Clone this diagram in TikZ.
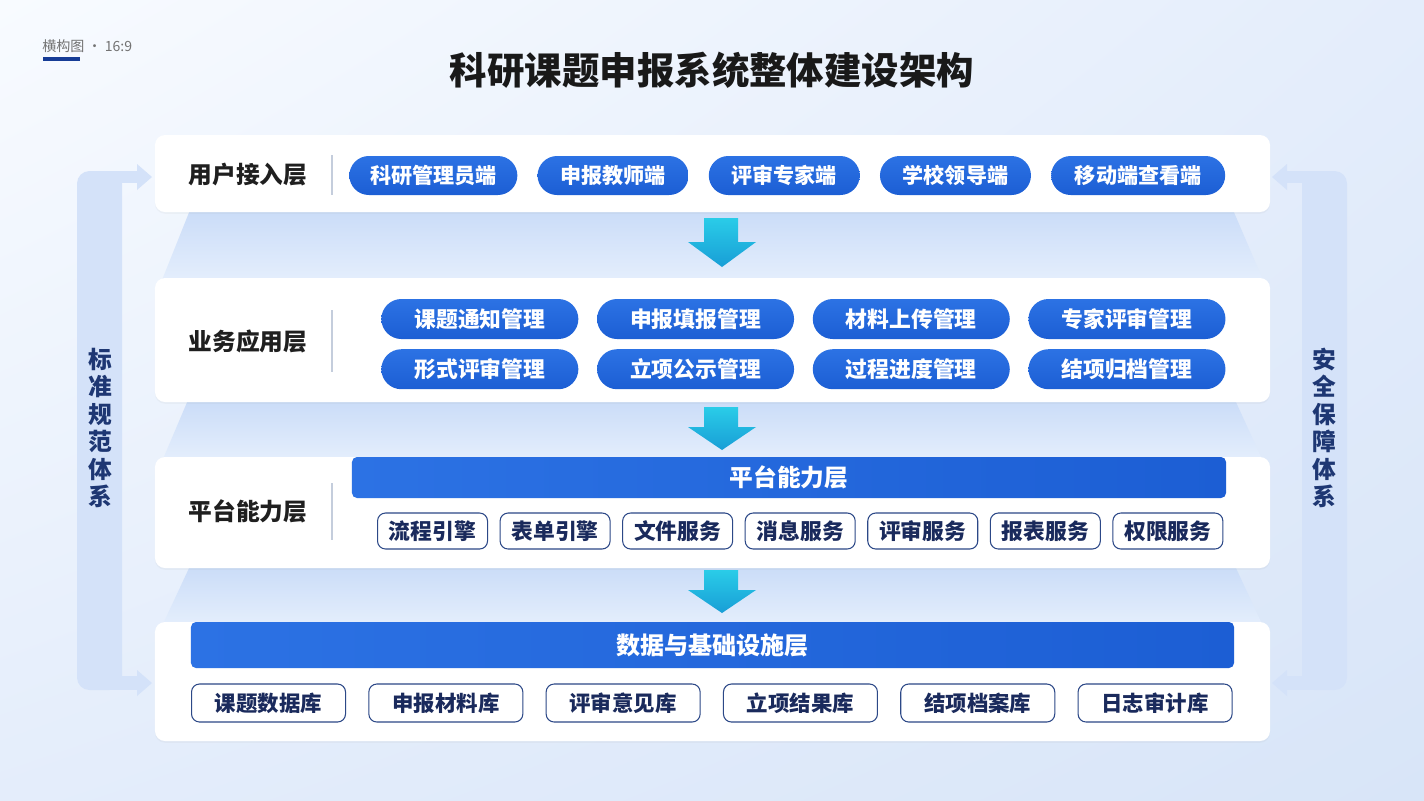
\documentclass[tikz,border=0pt]{standalone}
\usepackage{fontspec}
\setmainfont{Noto Sans CJK SC}
\usetikzlibrary{positioning, shadows, shadings}
\definecolor{pillblue}{RGB}{28,94,212}
\definecolor{pilltop}{RGB}{44,114,228}
\definecolor{navytext}{RGB}{26,42,92}
\definecolor{navyline}{RGB}{44,72,135}
\definecolor{sidefill}{RGB}{212,226,249}
\definecolor{sidetext}{RGB}{30,55,115}
\definecolor{gapfill}{RGB}{202,220,248}
\definecolor{gaplight}{RGB}{228,238,252}
\definecolor{arrowtop}{RGB}{42,204,232}
\definecolor{arrowbot}{RGB}{24,158,214}
\definecolor{seplight}{RGB}{196,205,220}
\definecolor{bgul}{RGB}{248,251,255}
\definecolor{bgur}{RGB}{228,237,251}
\definecolor{bgll}{RGB}{228,237,251}
\definecolor{bglr}{RGB}{216,229,248}
\definecolor{tagblue}{RGB}{22,60,150}
\tikzset{
  layercard/.style = {fill=white, rounded corners=2mm, minimum width=223mm,
                      drop shadow={opacity=0.06, shadow xshift=0pt, shadow yshift=-1pt}},
  layerlbl/.style  = {font=\fontsize{13.5}{16}\selectfont\bfseries, text=black!88},
  userpill/.style  = {rounded corners=3.9mm, minimum height=7.8mm, inner sep=0pt,
                      top color=pilltop, bottom color=pillblue, text=white,
                      font=\fontsize{12}{14}\selectfont\bfseries},
  bizpill/.style   = {userpill, minimum width=39.4mm, minimum height=8mm,
                      rounded corners=4mm, font=\fontsize{12.4}{14}\selectfont\bfseries},
  headbar/.style   = {rounded corners=1mm, left color=pilltop, right color=pillblue,
                      text=white, inner sep=0pt,
                      font=\fontsize{13.5}{16}\selectfont\bfseries},
  svcbox/.style    = {draw=navyline, line width=0.6pt, rounded corners=1.6mm,
                      fill=white, minimum width=22mm, minimum height=7.2mm,
                      inner sep=0pt, text=navytext,
                      font=\fontsize{12.4}{14}\selectfont\bfseries},
  dbbox/.style     = {svcbox, minimum width=30.8mm, minimum height=7.6mm,
                      font=\fontsize{12.2}{14}\selectfont\bfseries},
  flowarrow/.style = {top color=arrowtop, bottom color=arrowbot},
  sidelbl/.style   = {align=center, text=sidetext,
                      font=\fontsize{13.5}{15.6}\selectfont\bfseries},
  gapband/.style   = {top color=gapfill, bottom color=gaplight},
  sepline/.style   = {draw=seplight, line width=0.8pt}
}
\begin{document}
\begin{tikzpicture}[x=0.2mm, y=-0.2mm]
  \useasboundingbox (0,0) rectangle (1424,800);
  \shade[upper left=bgul, upper right=bgur, lower left=bgll, lower right=bglr]
    (0,0) rectangle (1424,800);

  % header
  \node[anchor=west, inner sep=0pt, text=black!55, font=\fontsize{8}{10}\selectfont]
       (tag) at (42,46) {横构图 · 16:9};
  \draw[tagblue, line width=2pt] (43,59) -- (80,59);
  \node[text=black!90, font=\fontsize{21.3}{26}\selectfont\bfseries]
       (title) at (712,70) {科研课题申报系统整体建设架构};

  % bands between layers
  \path[gapband] (190,210) -- (1233,210) -- (1263,280) -- (162,280) -- cycle;
  \path[gapband] (188,400) -- (1235,400) -- (1262,459) -- (163,459) -- cycle;
  \path[gapband] (190,566) -- (1235,566) -- (1262,624) -- (163,624) -- cycle;

  % side systems
  \fill[sidefill, rounded corners=2.5mm] (77,171) rectangle (122,690);
  \fill[sidefill] (110,171) rectangle (137,183);
  \fill[sidefill] (137,164) -- (152,177) -- (137,190) -- cycle;
  \fill[sidefill] (110,676) rectangle (137,690);
  \fill[sidefill] (137,670) -- (152,683) -- (137,696) -- cycle;
  \node[sidelbl] (stdlbl) at (100,428) {标\\准\\规\\范\\体\\系};

  \fill[sidefill, rounded corners=2.5mm] (1302,171) rectangle (1347,690);
  \fill[sidefill] (1287,171) rectangle (1314,183);
  \fill[sidefill] (1287,164) -- (1272,177) -- (1287,190) -- cycle;
  \fill[sidefill] (1287,676) rectangle (1314,690);
  \fill[sidefill] (1287,670) -- (1272,683) -- (1287,696) -- cycle;
  \node[sidelbl] (seclbl) at (1324,428) {安\\全\\保\\障\\体\\系};

  % layer cards
  \node[layercard, minimum height=15.4mm] (L1) at (712.5,173.5) {};
  \node[layercard, minimum height=24.8mm] (L2) at (712.5,340) {};
  \node[layercard, minimum height=22.2mm] (L3) at (712.5,512.5) {};
  \node[layercard, minimum height=23.8mm] (L4) at (712.5,681.5) {};

  % user access layer
  \node[layerlbl] (L1lbl) at (248,175) {用户接入层};
  \draw[sepline] (332,155) -- (332,195);
  \node[userpill, minimum width=33.6mm, anchor=west] (u1) at (349,175.5) {科研管理员端};
  \node[userpill, minimum width=30.2mm, right=3.9mm of u1] (u2) {申报教师端};
  \node[userpill, minimum width=30.2mm, right=3.9mm of u2] (u3) {评审专家端};
  \node[userpill, minimum width=30.2mm, right=3.9mm of u3] (u4) {学校领导端};
  \node[userpill, minimum width=34.8mm, right=3.9mm of u4] (u5) {移动端查看端};

  % business application layer
  \node[layerlbl] (L2lbl) at (248,341) {业务应用层};
  \draw[sepline] (332,310) -- (332,372);
  \node[bizpill, anchor=west] (b1) at (381,319) {课题通知管理};
  \node[bizpill, right=3.6mm of b1] (b2) {申报填报管理};
  \node[bizpill, right=3.6mm of b2] (b3) {材料上传管理};
  \node[bizpill, right=3.6mm of b3] (b4) {专家评审管理};
  \node[bizpill, below=1.9mm of b1] (b5) {形式评审管理};
  \node[bizpill, below=1.9mm of b2] (b6) {立项公示管理};
  \node[bizpill, below=1.9mm of b3] (b7) {过程进度管理};
  \node[bizpill, below=1.9mm of b4] (b8) {结项归档管理};

  % platform capability layer
  \node[layerlbl] (L3lbl) at (248,511) {平台能力层};
  \draw[sepline] (332,483) -- (332,540);
  \node[headbar, minimum width=174.8mm, minimum height=8.2mm] (h3) at (789,477.5) {平台能力层};
  \node[svcbox, anchor=west] (s1) at (377,531) {流程引擎};
  \node[svcbox, right=2.3mm of s1] (s2) {表单引擎};
  \node[svcbox, right=2.3mm of s2] (s3) {文件服务};
  \node[svcbox, right=2.3mm of s3] (s4) {消息服务};
  \node[svcbox, right=2.3mm of s4] (s5) {评审服务};
  \node[svcbox, right=2.3mm of s5] (s6) {报表服务};
  \node[svcbox, right=2.3mm of s6] (s7) {权限服务};

  % data and infrastructure layer
  \node[headbar, minimum width=208.6mm, minimum height=9.2mm,
        font=\fontsize{13.7}{16}\selectfont\bfseries] (h4) at (712.5,645) {数据与基础设施层};
  \node[dbbox, anchor=west] (d1) at (191,703) {课题数据库};
  \node[dbbox, right=4.45mm of d1] (d2) {申报材料库};
  \node[dbbox, right=4.45mm of d2] (d3) {评审意见库};
  \node[dbbox, right=4.45mm of d3] (d4) {立项结果库};
  \node[dbbox, right=4.45mm of d4] (d5) {结项档案库};
  \node[dbbox, right=4.45mm of d5] (d6) {日志审计库};

  % flow between layers
  \path[flowarrow] (704,218) -- (738,218) -- (738,242) -- (756,242)
                   -- (722,267) -- (688,242) -- (704,242) -- cycle;
  \path[flowarrow] (704,407) -- (738,407) -- (738,427) -- (756,427)
                   -- (722,450) -- (688,427) -- (704,427) -- cycle;
  \path[flowarrow] (704,570) -- (738,570) -- (738,590) -- (756,590)
                   -- (722,613) -- (688,590) -- (704,590) -- cycle;
\end{tikzpicture}
\end{document}
